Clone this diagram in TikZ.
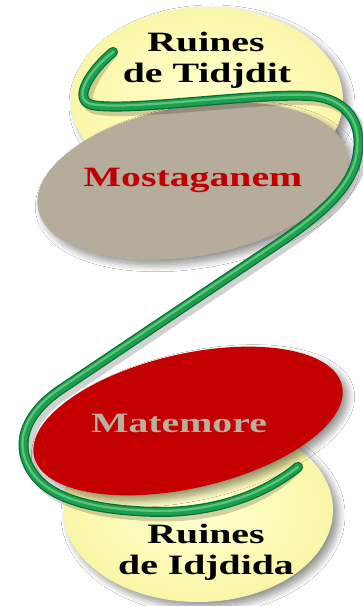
\documentclass[tikz,border=0pt]{standalone}
\usepackage{fontspec}
\setmainfont{Liberation Serif}
\usetikzlibrary{shadows.blur}
\definecolor{paleyel}{RGB}{255,255,205}
\definecolor{rimyel}{RGB}{250,246,168}
\definecolor{taupe}{RGB}{182,172,156}
\definecolor{deepred}{RGB}{196,0,0}
\definecolor{txtred}{RGB}{192,0,0}
\definecolor{txtgray}{RGB}{186,176,160}
\definecolor{tubedark}{RGB}{8,110,50}
\definecolor{tubemid}{RGB}{28,160,78}
\definecolor{tubelight}{RGB}{110,205,140}
\begin{document}
\begin{tikzpicture}[x=1pt,y=1pt,
  softshadow/.style={blur shadow={shadow xshift=5pt,shadow yshift=-5pt,shadow blur radius=7pt,shadow blur steps=12,shadow opacity=45}},
  yelblob/.style={inner color=paleyel,outer color=rimyel,softshadow},
  lbl/.style={font=\bfseries\fontsize{28}{30}\selectfont,xscale=1.42,anchor=base,inner sep=0pt},
  tubepath/.style={line cap=round,line join=round}
]
\useasboundingbox (0,0) rectangle (363,606);
\fill[white] (0,0) rectangle (363,606);

% yellow discs
\shade[yelblob] (207,506) ellipse (136 and 93);
\shade[yelblob] (198,96) ellipse (135 and 92);

% gray and red discs
\fill[taupe,softshadow,rotate around={10:(192.5,425)}] (192.5,425) ellipse (157 and 75);
\fill[deepred,softshadow,rotate around={13:(188,185)}] (188,185) ellipse (158 and 67);

% labels
\node[lbl] (r1) at (206,554) {Ruines};
\node[lbl] (t1) at (207,523) {de Tidjdit};
\node[lbl,text=txtred] (mo) at (193,419) {Mostaganem};
\node[lbl,text=txtgray] (ma) at (179,173) {Matemore};
\node[lbl] (r2) at (206,63) {Ruines};
\node[lbl] (t2) at (206,31) {de Idjdida};

% tube
\coordinate (ts) at (113,554);
\coordinate (te) at (298,139);
\def\tube{(ts) .. controls (90,535) and (72,506) .. (92,501)
  .. controls (130,494) and (250,513) .. (310,510)
  .. controls (345,508) and (362,485) .. (358,455)
  .. controls (355,420) and (320,390) .. (270,357)
  -- (60,216)
  .. controls (25,192) and (12,160) .. (35,130)
  .. controls (55,105) and (100,95) .. (160,94)
  .. controls (210,94) and (260,108) .. (te)}
\draw[tubepath,black,opacity=0.18,line width=11pt,xshift=4pt,yshift=-4pt] \tube;
\draw[tubepath,tubedark,line width=10pt] \tube;
\draw[tubepath,tubemid,line width=7.5pt] \tube;
\draw[tubepath,tubelight,opacity=0.8,line width=2.2pt,xshift=-1pt,yshift=1pt] \tube;
\end{tikzpicture}
\end{document}
